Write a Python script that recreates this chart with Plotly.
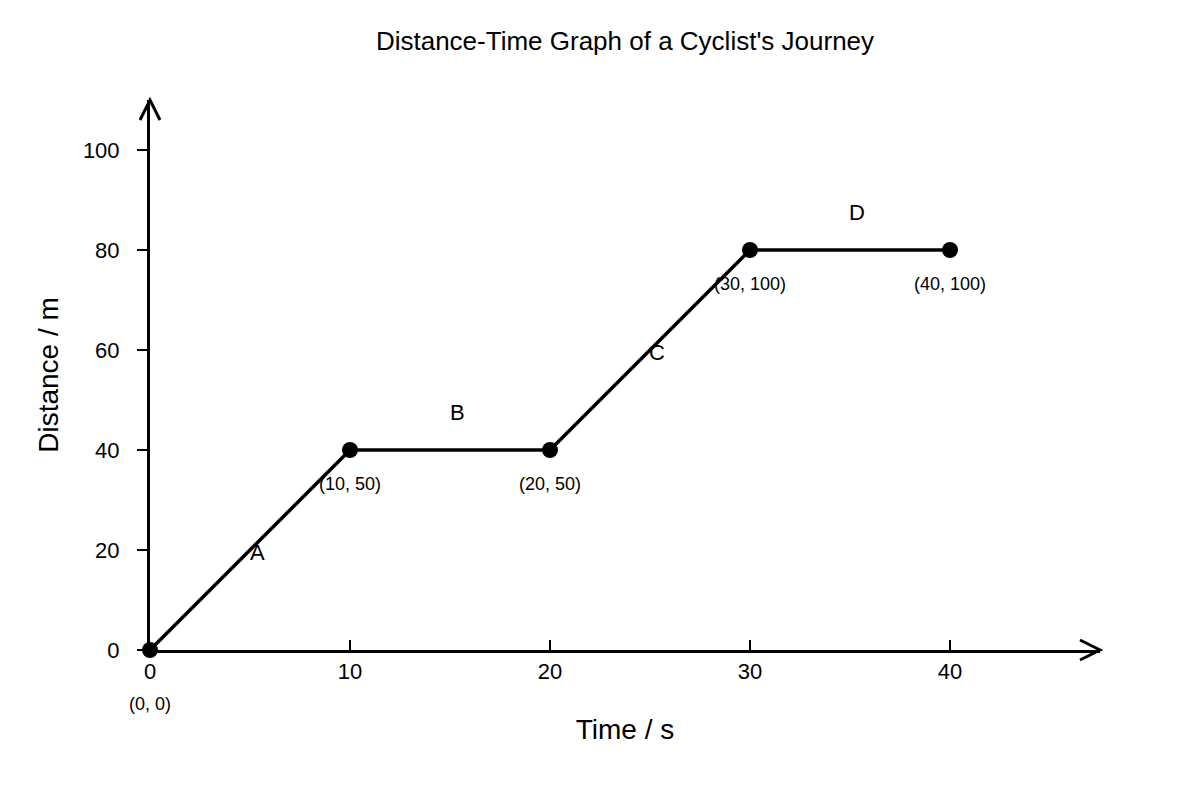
import plotly.graph_objects as go

# journey data
times = [0, 10, 20, 30, 40]
distances = [0, 40, 40, 80, 80]
point_labels = ["(0, 0)", "(10, 50)", "(20, 50)", "(30, 100)", "(40, 100)"]
segment_labels = ["A", "B", "C", "D"]
x_ticks = [0, 10, 20, 30, 40]
y_ticks = [0, 20, 40, 60, 80, 100]

font = "Liberation Sans, Arial, sans-serif"

fig = go.Figure()
fig.add_trace(go.Scatter(
    x=times, y=distances, mode="lines+markers",
    line=dict(color="black", width=3.5),
    marker=dict(color="black", size=16),
    cliponaxis=False, hoverinfo="x+y", showlegend=False,
))

# coordinate labels under each point
for i, (t, d, lab) in enumerate(zip(times, distances, point_labels)):
    fig.add_annotation(x=t, y=d, text=lab, showarrow=False,
                       yshift=-54 if i == 0 else -34,
                       font=dict(size=18, color="black", family=font))

# segment letters at the middle of each stretch
for i, lab in enumerate(segment_labels):
    xm = (times[i] + times[i + 1]) / 2
    ym = (distances[i] + distances[i + 1]) / 2
    flat = distances[i] == distances[i + 1]
    fig.add_annotation(x=xm, y=ym, text=lab, showarrow=False,
                       xshift=7, yshift=38 if flat else -2,
                       font=dict(size=22, color="black", family=font))

# open arrow heads on the ends of the axes
fig.add_shape(type="path", xref="paper", yref="paper", xsizemode="pixel", ysizemode="pixel",
              xanchor=1, yanchor=0, path="M -20 10 L 0 0 L -20 -10",
              line=dict(color="black", width=3))
fig.add_shape(type="path", xref="paper", yref="paper", xsizemode="pixel", ysizemode="pixel",
              xanchor=0, yanchor=1, path="M -10 -20 L 0 0 L 10 -20",
              line=dict(color="black", width=3))

fig.update_layout(
    width=1184, height=784,
    margin=dict(l=142, r=92, t=92, b=142),
    paper_bgcolor="white", plot_bgcolor="white",
    font=dict(family=font, color="black"),
    title=dict(text="Distance-Time Graph of a Cyclist's Journey", x=0.5, xref="paper",
               y=0.958, yref="container", xanchor="center", yanchor="middle",
               font=dict(size=26, color="black")),
)
fig.update_xaxes(
    range=[0, 47.5], tickvals=x_ticks, showgrid=False, zeroline=False,
    showline=True, linecolor="black", linewidth=3,
    ticks="inside", ticklen=10, tickwidth=2, tickcolor="black",
    tickfont=dict(size=22), ticklabelstandoff=0,
    title=dict(text="Time / s", font=dict(size=28), standoff=36),
)
fig.update_yaxes(
    range=[0, 110], tickvals=y_ticks, showgrid=False, zeroline=False,
    showline=True, linecolor="black", linewidth=3,
    ticks="outside", ticklen=10, tickwidth=2, tickcolor="black",
    tickfont=dict(size=22), ticklabelstandoff=13,
    title=dict(text="Distance / m", font=dict(size=28), standoff=17),
)

fig.write_html("out.html")
